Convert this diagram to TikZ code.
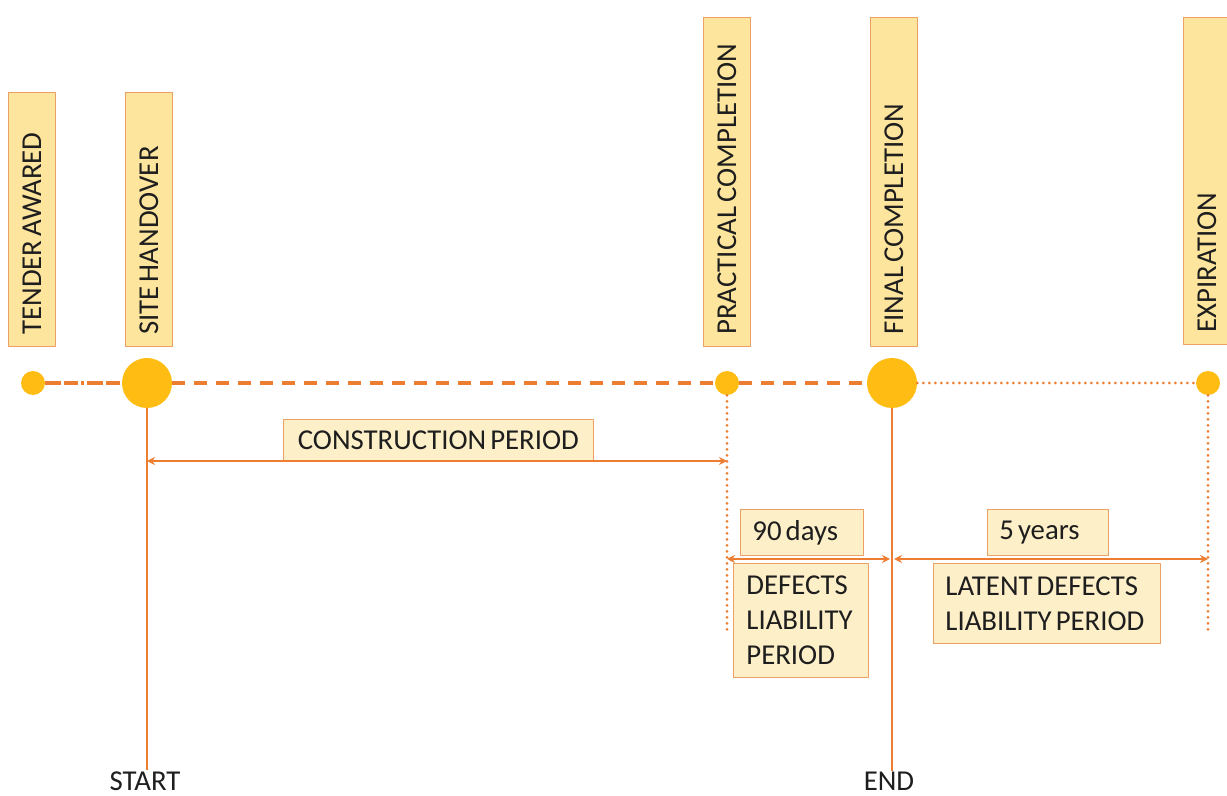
\documentclass[tikz,border=0pt]{standalone}
\usepackage{fontspec}
\setmainfont{Carlito}
\usetikzlibrary{arrows.meta, positioning, calc}

\definecolor{lineorange}{RGB}{237,125,49}
\definecolor{dotgold}{RGB}{255,189,20}
\definecolor{boxedge}{RGB}{236,160,100}
\definecolor{tagfill}{RGB}{253,229,158}
\definecolor{notefill}{RGB}{253,239,200}
\definecolor{inkgray}{RGB}{30,30,30}

\newcommand{\labelfont}{\fontsize{14.4}{17.5}\selectfont}

\begin{document}
\begin{tikzpicture}[x=0.5pt, y=-0.5pt, >=Stealth, line join=round]
	% px grid of the reference: 1227 x 796
	\useasboundingbox (0,0) rectangle (1227,796);
	
	\def\rowy{383}
	
	%======================
	% STYLES
	%======================
	\tikzset{
		tightspace/.style={execute at begin node={\spaceskip=0.14em plus 0.05em\relax}},
		milestone/.style={circle, fill=dotgold, draw=none, inner sep=0pt},
		bigdot/.style={milestone, minimum size=25pt},
		smalldot/.style={milestone, minimum size=12pt},
		tagbox/.style={draw=boxedge, fill=tagfill, rotate=90, anchor=north west,
			minimum height=23.5pt, inner xsep=6pt, align=left, text=inkgray,
			font=\labelfont, tightspace},
		notebox/.style={draw=boxedge, fill=notefill, inner xsep=6pt, inner ysep=2pt,
			align=left, text=inkgray, font=\labelfont, tightspace},
		endlabel/.style={text=inkgray, font=\labelfont},
		mainline/.style={lineorange, line width=1.6pt, dash pattern=on 6.5pt off 4.5pt},
		tenderline/.style={lineorange, line width=1.6pt,
			dash pattern=on 8pt off 1.5pt on 7pt off 1.5pt on 1.5pt off 1.5pt},
		dotline/.style={lineorange, line width=1.5pt, line cap=round, dash pattern=on 0pt off 3pt},
		stem/.style={lineorange, line width=1.3pt},
		span/.style={lineorange, line width=0.8pt, {Stealth[length=4pt,width=4pt]}-{Stealth[length=4pt,width=4pt]}}
	}
	
	% milestone tags (rotated)
	\node[tagbox, minimum width=127pt, text width=115pt] (tTender) at (8,347) {TENDER AWARED};
	\node[tagbox, minimum width=127pt, text width=115pt] (tSite) at (125,347) {SITE HANDOVER};
	\node[tagbox, minimum width=164.5pt, text width=152.5pt] (tPractical) at (703,347) {PRACTICAL COMPLETION};
	\node[tagbox, minimum width=164.5pt, text width=152.5pt] (tFinal) at (870,347) {FINAL COMPLETION};
	\node[tagbox, minimum width=163.5pt, text width=151.5pt] (tExpiry) at (1183,345) {EXPIRATION};
	
	% milestone dots
	\node[smalldot] (tender) at (33,\rowy) {};
	\node[bigdot] (site) at (147,\rowy) {};
	\node[smalldot] (practical) at (727,\rowy) {};
	\node[bigdot] (final) at (892,\rowy) {};
	\node[smalldot] (expiry) at (1208,\rowy) {};
	
	% time line
	\draw[tenderline] (tender) -- (site);
	\draw[mainline] (site) -- (practical);
	\draw[mainline] (practical) -- (final);
	\draw[dotline] (final) -- (expiry);
	
	% start / end
	\node[endlabel] (start) at (145,781) {START};
	\node[endlabel] (end) at (889,781) {END};
	\draw[stem] (site) -- ([yshift=-3pt]start.north -| site);
	\draw[stem] (final) -- ([yshift=-3pt]end.north -| final);
	
	\coordinate (pcfoot) at (727,635);
	\coordinate (exfoot) at (1208,635);
	\draw[dotline] (practical) -- (pcfoot);
	\draw[dotline] (expiry) -- (exfoot);
	
	% periods
	\node[notebox, anchor=south west, minimum width=155pt, minimum height=20.5pt, align=center,
		inner xsep=4pt] (cpbox) at (283,461) {CONSTRUCTION PERIOD};
	\draw[span] (site |- cpbox.south) -- (practical |- cpbox.south);
	
	\coordinate (dlrow) at (0,559);
	\node[notebox, anchor=south west, minimum width=61.5pt, minimum height=23pt, text width=49.5pt]
		(days) at (740,556) {90 days};
	\node[notebox, anchor=north west, minimum width=67.5pt, minimum height=57pt, text width=54.5pt,
		inner xsep=6.5pt] (dlp) at (733,563) {DEFECTS\\LIABILITY\\PERIOD};
	\draw[span] (practical |- dlrow) -- ([xshift=-1pt]final |- dlrow);
	
	\node[notebox, anchor=south west, minimum width=60.5pt, minimum height=23pt, text width=48.5pt]
		(years) at (987,556) {5 years};
	\node[notebox, anchor=north west, minimum width=113.5pt, minimum height=40pt, text width=101.5pt]
		(ldlp) at (933,563) {LATENT DEFECTS\\LIABILITY PERIOD};
	\draw[span] ([xshift=1pt]final |- dlrow) -- (expiry |- dlrow);
\end{tikzpicture}
\end{document}
